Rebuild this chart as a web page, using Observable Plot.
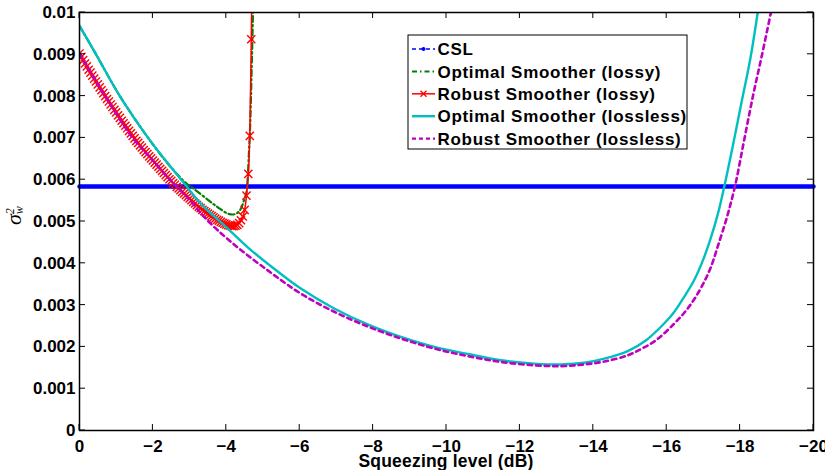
<!DOCTYPE html>
<html>
<head>
<meta charset="utf-8">
<script src="https://cdn.jsdelivr.net/npm/d3@7"></script>
<script src="https://cdn.jsdelivr.net/npm/@observablehq/plot@0.6"></script>
<style>
html, body { margin: 0; padding: 0; background: #fff; }
#chart svg { display: block; }
</style>
</head>
<body>
<div id="chart"></div>
<script>
// ---- tick values ----
const xTicks = [0, -2, -4, -6, -8, -10, -12, -14, -16, -18, -20];
const yTicks = [0, 0.001, 0.002, 0.003, 0.004, 0.005, 0.006, 0.007, 0.008, 0.009, 0.01];

// ---- series labels & colours ----
const seriesLabels = ["CSL", "Optimal Smoother (lossy)", "Robust Smoother (lossy)", "Optimal Smoother (lossless)", "Robust Smoother (lossless)"];
const seriesColors = ["#0000ff", "#008000", "#ff0000", "#00bfbf", "#bf00bf"];

// ---- CSL (constant) ----
const cslX = [0, -20];
const cslY = [0.00584, 0.00584];

// ---- Optimal Smoother (lossy) ----
const osLossyX = [0, -0.45, -1.1, -1.87, -2.45, -2.9, -3.12, -3.5, -3.77, -4.07, -4.25, -4.38, -4.48, -4.55, -4.58, -4.62, -4.65, -4.69, -4.73];
const osLossyY = [0.00968, 0.009, 0.008, 0.007, 0.00634, 0.00592, 0.00578, 0.00552, 0.00534, 0.00518, 0.00518, 0.00528, 0.0055, 0.0057, 0.006, 0.0067, 0.0073, 0.0086, 0.0101];

// ---- Robust Smoother (lossy) ----
const rsLossyX = [0, -0.05, -0.1, -0.15, -0.2, -0.25, -0.3, -0.35, -0.4, -0.45, -0.5, -0.55, -0.6, -0.65, -0.7, -0.75, -0.8, -0.85, -0.9, -0.95,
  -1.0, -1.05, -1.1, -1.15, -1.2, -1.25, -1.3, -1.35, -1.4, -1.45, -1.5, -1.55, -1.6, -1.65, -1.7, -1.75, -1.8, -1.85, -1.9, -1.95,
  -2.0, -2.05, -2.1, -2.15, -2.2, -2.25, -2.3, -2.35, -2.4, -2.45, -2.5, -2.55, -2.6, -2.65, -2.7, -2.75, -2.8, -2.85, -2.9, -2.95,
  -3.0, -3.05, -3.1, -3.15, -3.2, -3.25, -3.3, -3.35, -3.4, -3.45, -3.5, -3.55, -3.6, -3.65, -3.7, -3.75, -3.8, -3.85, -3.9, -3.95,
  -4.0, -4.05, -4.1, -4.15, -4.2, -4.25, -4.3, -4.35, -4.4, -4.45, -4.5, -4.55, -4.6, -4.64, -4.68, -4.72];
const rsLossyY = [0.00902, 0.00894, 0.00886, 0.00878, 0.00871, 0.00863, 0.00856, 0.00849, 0.00842, 0.00835, 0.00828, 0.00821, 0.00814, 0.00807, 0.008, 0.00793, 0.00787, 0.0078, 0.00774, 0.00767,
  0.00761, 0.00754, 0.00748, 0.00741, 0.00735, 0.00729, 0.00723, 0.00717, 0.00711, 0.00705, 0.00699, 0.00693, 0.00688, 0.00682, 0.00677, 0.00671, 0.00666, 0.00661, 0.00656, 0.00651,
  0.00646, 0.00641, 0.00636, 0.00631, 0.00626, 0.00621, 0.00616, 0.00611, 0.00606, 0.00601, 0.00597, 0.00592, 0.00588, 0.00583, 0.00579, 0.00575, 0.00571, 0.00567, 0.00563, 0.00559,
  0.00555, 0.00551, 0.00547, 0.00543, 0.00539, 0.00535, 0.00532, 0.00528, 0.00525, 0.00522, 0.00519, 0.00516, 0.00513, 0.0051, 0.00507, 0.00504, 0.00502, 0.00499, 0.00497, 0.00495,
  0.00493, 0.00491, 0.0049, 0.00489, 0.00489, 0.0049, 0.00492, 0.00496, 0.00503, 0.00512, 0.00528, 0.00562, 0.00614, 0.00705, 0.00936, 0.0122];

// ---- Optimal Smoother (lossless) ----
const osLosslessX = [0, -0.45, -1.1, -1.87, -2.4, -2.9, -3.31, -4.04, -4.6, -5.13, -6.04, -6.94, -7.85, -8.76, -9.67, -10.58, -11.48, -12.39, -13.12, -13.75, -14.3, -14.94, -15.44, -15.93, -16.2, -16.45, -16.75, -17.0, -17.2, -17.4, -17.57, -17.8, -18.05, -18.28, -18.48];
const osLosslessY = [0.00968, 0.009, 0.008, 0.007, 0.0064, 0.00586, 0.00542, 0.00483, 0.00437, 0.00399, 0.00339, 0.00292, 0.00254, 0.00224, 0.002, 0.00183, 0.00168, 0.0016, 0.00158, 0.00162, 0.00172, 0.0019, 0.00216, 0.00256, 0.00283, 0.00316, 0.0036, 0.0041, 0.0046, 0.0052, 0.00584, 0.0068, 0.0079, 0.0089, 0.01];

// ---- Robust Smoother (lossless) ----
const rsLosslessX = [0, -0.7, -1.45, -2.0, -2.4, -2.62, -3.0, -3.45, -4.13, -5.13, -6.04, -6.94, -7.85, -8.76, -9.67, -10.58, -11.48, -12.39, -13.12, -13.75, -14.3, -14.94, -15.3, -15.71, -16.21, -16.5, -16.75, -17.0, -17.2, -17.39, -17.64, -17.86, -18.1, -18.35, -18.6, -18.84];
const rsLosslessY = [0.00902, 0.008, 0.007, 0.00646, 0.00606, 0.00586, 0.00552, 0.00506, 0.00451, 0.00383, 0.00327, 0.00284, 0.00249, 0.0022, 0.00196, 0.00178, 0.00164, 0.00156, 0.00154, 0.00158, 0.00165, 0.0018, 0.00195, 0.00216, 0.00256, 0.00284, 0.00314, 0.00352, 0.0039, 0.0044, 0.0051, 0.00584, 0.0069, 0.008, 0.009, 0.01];

const rows = (xs, ys) => xs.map((x, i) => ({x, y: ys[i]}));

const FONT = "'Liberation Sans', Arial, Helvetica, sans-serif";

const chart = Plot.plot({
  width: 825,
  height: 470,
  marginLeft: 79,
  marginRight: 12,
  marginTop: 12,
  marginBottom: 40,
  style: {fontFamily: FONT, fontSize: "17px", fontWeight: "bold", color: "#000", background: "#fff"},
  x: {domain: [0, -20]},
  y: {domain: [0, 0.01]},
  marks: [
    Plot.line(rows(cslX, cslY), {x: "x", y: "y", stroke: seriesColors[0], strokeWidth: 4.5}),
    Plot.line(rows(osLossyX, osLossyY), {x: "x", y: "y", stroke: seriesColors[1], strokeWidth: 2.2, strokeDasharray: "6,3,1.5,3", curve: "catmull-rom", clip: true}),
    Plot.line(rows(rsLossyX, rsLossyY), {x: "x", y: "y", stroke: seriesColors[2], strokeWidth: 1.5, curve: "catmull-rom", clip: true}),
    Plot.dot(rows(rsLossyX, rsLossyY), {x: "x", y: "y", symbol: "times", r: 3.8, stroke: seriesColors[2], strokeWidth: 1.4, clip: true}),
    Plot.line(rows(osLosslessX, osLosslessY), {x: "x", y: "y", stroke: seriesColors[3], strokeWidth: 2.4, curve: "catmull-rom", clip: true}),
    Plot.line(rows(rsLosslessX, rsLosslessY), {x: "x", y: "y", stroke: seriesColors[4], strokeWidth: 2.6, strokeDasharray: "4.5,4", curve: "catmull-rom", clip: true}),
    Plot.axisX(xTicks, {tickSize: 0, tickPadding: 9, label: null, fontSize: 17, fontWeight: "bold",
      tickFormat: d => d === 0 ? "0" : "\u2212" + Math.abs(d)}),
    Plot.axisY(yTicks, {tickSize: 0, tickPadding: 4, label: null, fontSize: 17, fontWeight: "bold",
      tickFormat: d => d === 0 ? "0" : d3.format(".3~f")(d)}),
    Plot.frame({stroke: "#000", strokeWidth: 1.5})
  ]
});

document.getElementById("chart").appendChild(chart);

// ---- inward ticks on all four sides ----
const sx = chart.scale("x"), sy = chart.scale("y");
const svg = d3.select(chart);
const x0 = sx.apply(0), x1 = sx.apply(-20);
const yB = sy.apply(0), yT = sy.apply(0.01);
const tg = svg.append("g").attr("stroke", "#000").attr("stroke-width", 1);
for (const t of xTicks) {
  const px = sx.apply(t);
  tg.append("line").attr("x1", px).attr("x2", px).attr("y1", yB).attr("y2", yB - 6);
  tg.append("line").attr("x1", px).attr("x2", px).attr("y1", yT).attr("y2", yT + 6);
}
for (const t of yTicks) {
  const py = sy.apply(t);
  tg.append("line").attr("x1", x0).attr("x2", x0 + 6).attr("y1", py).attr("y2", py);
  tg.append("line").attr("x1", x1).attr("x2", x1 - 6).attr("y1", py).attr("y2", py);
}

// ---- x label ----
svg.append("text")
  .attr("x", (x0 + x1) / 2).attr("y", 467)
  .attr("text-anchor", "middle")
  .attr("font-family", FONT).attr("font-size", 17.5).attr("font-weight", "bold")
  .style("letter-spacing", "0.2px")
  .text("Squeezing level (dB)");

// ---- y label: sigma_w^2 ----
const yl = svg.append("text")
  .attr("transform", "translate(21,225) rotate(-90)")
  .attr("text-anchor", "start")
  .attr("font-family", "'Liberation Serif', 'DejaVu Serif', serif")
  .attr("font-style", "italic").attr("font-weight", "normal")
  .attr("font-size", 22).attr("fill", "#000");
yl.append("tspan").text("σ");
yl.append("tspan").attr("font-size", 12).attr("dy", 2).text("w");
yl.append("tspan").attr("font-size", 12).attr("dx", -8).attr("dy", -9).text("2");

// ---- legend ----
const lg = svg.append("g").attr("text-anchor", "start");
const box = {x: 408, y: 35, w: 279, h: 114};
lg.append("rect").attr("x", box.x).attr("y", box.y).attr("width", box.w).attr("height", box.h)
  .attr("fill", "#fff").attr("stroke", "#000").attr("stroke-width", 1);
const rowY = i => 49 + i * 22.4;
const styles = [
  {w: 1.5, dash: "4,3"},
  {w: 2, dash: "5,3,1.5,3"},
  {w: 1.5, dash: null},
  {w: 2.4, dash: null},
  {w: 2.4, dash: "4,3"}
];
seriesLabels.forEach((label, i) => {
  const y = rowY(i);
  const ln = lg.append("line").attr("x1", 412).attr("x2", 435).attr("y1", y).attr("y2", y)
    .attr("stroke", seriesColors[i]).attr("stroke-width", styles[i].w);
  if (styles[i].dash) ln.attr("stroke-dasharray", styles[i].dash);
  if (i === 0) lg.append("circle").attr("cx", 423.5).attr("cy", y).attr("r", 2).attr("fill", seriesColors[i]);
  if (i === 2) lg.append("path").attr("d", `M${420.5},${y - 3}L${426.5},${y + 3}M${420.5},${y + 3}L${426.5},${y - 3}`)
    .attr("stroke", seriesColors[i]).attr("stroke-width", 1.3);
  lg.append("text").attr("x", 437.5).attr("y", y).attr("dy", "0.36em")
    .attr("text-anchor", "start")
    .attr("font-family", FONT).attr("font-size", 17).attr("font-weight", "bold")
    .style("letter-spacing", "0.7px").attr("fill", "#000")
    .text(label);
});
</script>
</body>
</html>
